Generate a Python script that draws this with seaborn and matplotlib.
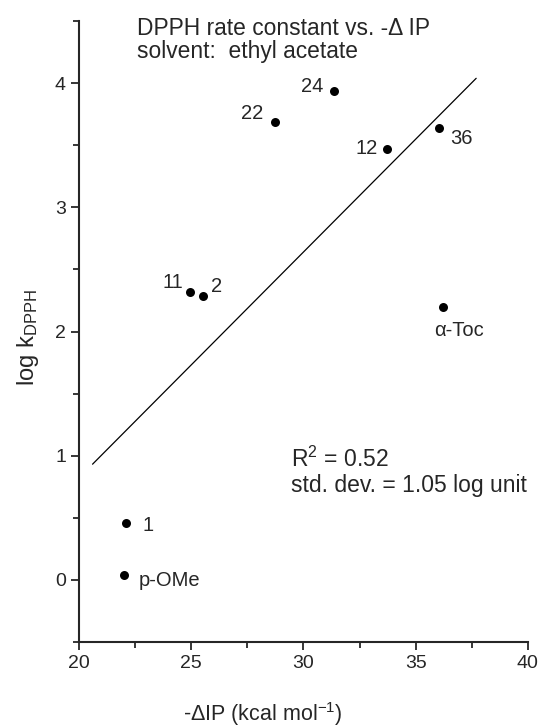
import numpy as np
import pandas as pd
import seaborn as sns
import matplotlib.pyplot as plt

# compounds, -dIP (kcal/mol) and log k(DPPH)
labels = ['11', '2', '22', '24', '12', '36', 'α-Toc', '1', 'p-OMe']
dip = [24.94, 25.52, 28.73, 31.36, 33.72, 36.04, 36.2, 22.09, 22.0]
logk = [2.32, 2.29, 3.69, 3.94, 3.47, 3.64, 2.2, 0.46, 0.04]

# label offsets in points (x, y)
offsets = [(-12, 6.5), (10, 6.5), (-16.5, 6), (-16, 3), (-14.5, 0),
           (16.5, -8), (12, -17), (16, -2), (33, -4)]

fit_range = [20.6, 37.7]

sns.set_style('ticks')
plt.rcParams['font.family'] = ['Liberation Sans', 'DejaVu Sans']
plt.rcParams['mathtext.fontset'] = 'custom'
plt.rcParams['mathtext.rm'] = 'Liberation Sans'
plt.rcParams['mathtext.it'] = 'Liberation Sans'

df = pd.DataFrame({'dip': dip, 'logk': logk, 'label': labels})

fig = plt.figure(figsize=(5.38, 7.27), dpi=100)
ax = fig.add_axes([0.147, 0.117, 0.834, 0.854])

# linear regression line
slope, icpt = np.polyfit(df['dip'], df['logk'], 1)
xs = np.array(fit_range)
sns.lineplot(x=xs, y=slope * xs + icpt, color='black', linewidth=0.9, ax=ax)

sns.scatterplot(data=df, x='dip', y='logk', color='black', s=42,
                edgecolor='black', linewidth=0, ax=ax, zorder=3)

for (lab, x, y), off in zip(df[['label', 'dip', 'logk']].values, offsets):
    ax.annotate(lab, (x, y), xytext=off, textcoords='offset points',
                ha='center', va='center', fontsize=14.5)

ax.set_xlim(20, 40)
ax.set_ylim(-0.5, 4.5)
ax.set_xticks([20, 25, 30, 35, 40])
ax.set_xticks([22.5, 27.5, 32.5, 37.5], minor=True)
ax.set_yticks([0, 1, 2, 3, 4])
ax.set_yticks([-0.5, 0.5, 1.5, 2.5, 3.5, 4.5], minor=True)
ax.tick_params(which='major', length=6, width=1.3, labelsize=14, direction='out')
ax.tick_params(which='minor', length=4, width=1.3, direction='out')
for s in ['left', 'bottom']:
    ax.spines[s].set_linewidth(1.5)
sns.despine(ax=ax)

ax.set_xlabel('-ΔIP (kcal mol$^{-1}$)', fontsize=15.5)
ax.xaxis.set_label_coords(0.41, -0.093)
ax.set_ylabel('log k$_{\\mathrm{DPPH}}$', fontsize=17)
ax.yaxis.set_label_coords(-0.084, 0.49)

ax.text(22.58, 4.53, 'DPPH rate constant vs. -Δ IP\nsolvent:  ethyl acetate',
        fontsize=16.4, va='top', ha='left', linespacing=1.0)
ax.text(29.44, 0.87, 'R$^2$ = 0.52\nstd. dev. = 1.05 log unit',
        fontsize=16.5, va='center', ha='left', linespacing=1.15)

fig.savefig('out.png', dpi=100)
